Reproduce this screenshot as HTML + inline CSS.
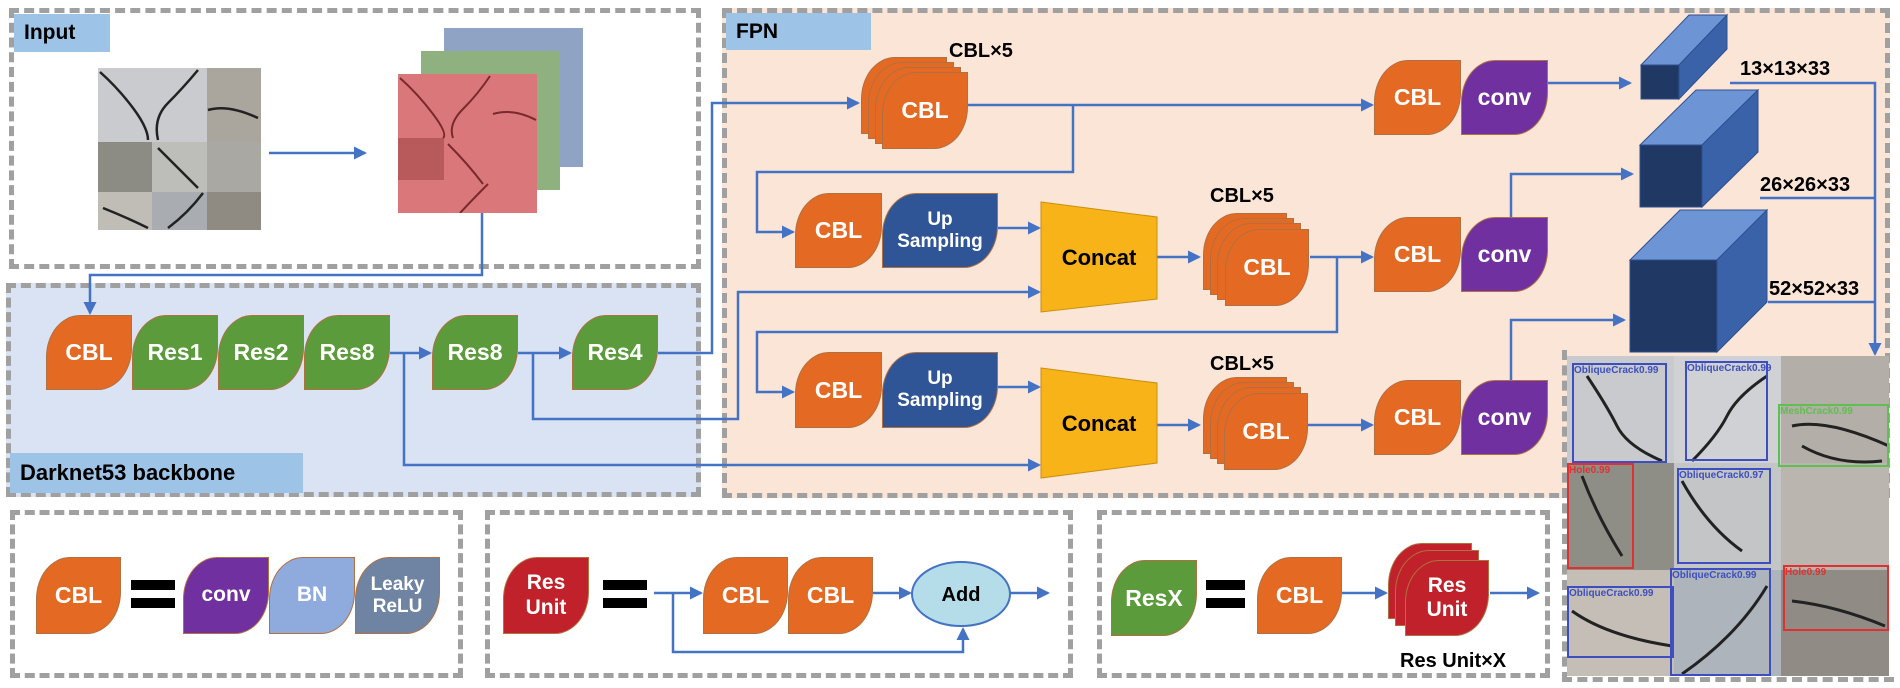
<!DOCTYPE html>
<html><head><meta charset="utf-8"><style>
*{margin:0;padding:0;box-sizing:border-box}
body{width:1900px;height:688px;position:relative;background:#fff;overflow:hidden;font-family:"Liberation Sans",Arial,sans-serif}
.box{position:absolute;border:5px dashed #a0a0a0}
.lab{position:absolute;background:#9dc3e6;font-weight:bold;font-size:21px;color:#000;padding-left:10px;display:flex;align-items:center}
.b{position:absolute;display:flex;align-items:center;justify-content:center;text-align:center;color:#fff;font-weight:bold;font-size:23px;line-height:1.15;border-radius:34px 0 34px 0/42px 0 42px 0;border:1px solid #b07040}
.o{background:#e46a24}.g{background:#5b9b3c}.u{background:#2f5597;font-size:19px}.p{background:#7030a0}.r{background:#c0212a}
.t{position:absolute;font-weight:bold;font-size:20px;color:#000;white-space:nowrap}
.tile{position:absolute}
.det{position:absolute;border:2px solid;font-size:10px;font-weight:bold}
</style></head><body>
<!-- boxes -->
<div class="box" style="left:9px;top:8px;width:692px;height:261px"></div>
<div class="box" style="left:6px;top:283px;width:695px;height:214px;background:#dae3f3"></div>
<div class="box" style="left:722px;top:8px;width:1168px;height:490px;background:#fbe5d6"></div>
<div class="box" style="left:10px;top:510px;width:453px;height:168px"></div>
<div class="box" style="left:485px;top:510px;width:588px;height:168px"></div>
<div class="box" style="left:1097px;top:510px;width:453px;height:168px"></div>
<div class="box" style="left:1562px;top:350px;width:332px;height:332px;border-right:none;border-top:none"></div>
<div class="lab" style="left:14px;top:14px;width:96px;height:38px">Input</div>
<div class="lab" style="left:10px;top:453px;width:293px;height:40px;font-size:22px">Darknet53 backbone</div>
<div class="lab" style="left:726px;top:13px;width:145px;height:37px">FPN</div>

<!-- input images -->
<svg width="1900" height="688" style="position:absolute;left:0;top:0">
<g>
<rect x="98" y="68" width="109" height="74" fill="#c9cbcf"/><rect x="207" y="68" width="54" height="74" fill="#aaa59d"/>
<rect x="98" y="142" width="54" height="76" fill="#8d8c84"/><rect x="152" y="142" width="55" height="76" fill="#bdbdb9"/><rect x="207" y="142" width="54" height="76" fill="#aaa8a2"/>
<rect x="98" y="218" width="54" height="12" fill="#c0bcb6"/>
<rect x="98" y="218" width="54" height="12" fill="#c0bcb6"/>
<rect x="98" y="218" width="54" height="12" fill="#c0bcb6"/>
</g>
<rect x="98" y="218" width="163" height="12" fill="none"/>
</svg>
<div style="position:absolute;left:98px;top:68px;width:163px;height:162px">
<svg width="163" height="162">
<rect width="109" height="74" fill="#c9cbcf"/><rect x="109" width="54" height="74" fill="#aaa59d"/>
<rect y="74" width="54" height="76" fill="#8d8c84"/><rect x="54" y="74" width="55" height="76" fill="#bdbdb9"/><rect x="109" y="74" width="54" height="76" fill="#aaa8a2"/>
<rect y="150" width="54" height="12" fill="#c0bcb6"/><rect x="54" y="150" width="55" height="12" fill="#a9adb2"/><rect x="109" y="150" width="54" height="12" fill="#8f8a82"/>
<rect y="124" width="54" height="38" fill="#c0bcb6"/><rect x="54" y="124" width="55" height="38" fill="#a9adb2"/><rect x="109" y="124" width="54" height="38" fill="#8f8a82"/>
<g stroke="#222" stroke-width="2.5" fill="none">
<path d="M2 4Q20 20 35 40T50 72"/><path d="M100 2Q85 20 70 35T60 72"/>
<path d="M110 42Q130 36 160 50"/><path d="M60 80Q80 100 100 120"/>
<path d="M5 140Q30 150 50 160"/><path d="M105 125Q90 145 70 160"/>
</g></svg></div>
<div style="position:absolute;left:444px;top:28px;width:139px;height:139px;background:#8fa3c4"></div>
<div style="position:absolute;left:421px;top:51px;width:139px;height:139px;background:#8fb07f"></div>
<div style="position:absolute;left:398px;top:74px;width:139px;height:139px;background:#d9777a">
<svg width="139" height="139"><rect x="0" y="64" width="46" height="42" fill="#b85a5c"/><g stroke="#7a2a2c" stroke-width="2" fill="none">
<path d="M2 4Q20 20 35 40T45 64"/><path d="M92 2Q80 20 65 35T55 64"/><path d="M95 40Q115 34 138 46"/><path d="M50 70Q70 90 85 110"/><path d="M90 110Q75 125 62 139"/></g></svg></div>

<svg width="1900" height="688" style="position:absolute;left:0;top:0">
<defs><marker id="a" markerWidth="13" markerHeight="13" refX="11" refY="6.5" orient="auto" markerUnits="userSpaceOnUse"><path d="M0,0L13,6.5L0,13z" fill="#4472c4"/></marker></defs>
<g stroke="#4472c4" stroke-width="2.5" fill="none">
<path d="M269 153H365" marker-end="url(#a)"/>
<path d="M482 213V275H90V313" marker-end="url(#a)"/>
<path d="M390 353H430" marker-end="url(#a)"/>
<path d="M518 353H570" marker-end="url(#a)"/>
<path d="M658 353H712V103H858" marker-end="url(#a)"/>
<path d="M404 353V465H1039" marker-end="url(#a)"/>
<path d="M533 353V419H738V292H1039" marker-end="url(#a)"/>
<path d="M968 105H1372" marker-end="url(#a)"/>
<path d="M1073 105V172H757V232H793" marker-end="url(#a)"/>
<path d="M998 228H1039" marker-end="url(#a)"/>
<path d="M1157 257H1199" marker-end="url(#a)"/>
<path d="M1310 257H1372" marker-end="url(#a)"/>
<path d="M1337 257V332H757V392H793" marker-end="url(#a)"/>
<path d="M998 387H1039" marker-end="url(#a)"/>
<path d="M1157 425H1199" marker-end="url(#a)"/>
<path d="M1307 425H1372" marker-end="url(#a)"/>
<path d="M1548 83H1630" marker-end="url(#a)"/>
<path d="M1511 217V174H1632" marker-end="url(#a)"/>
<path d="M1511 380V320H1624" marker-end="url(#a)"/>
<path d="M1730 83H1875V354" marker-end="url(#a)"/>
<path d="M1760 198H1875M1768 302H1875"/>
<path d="M654 593H701" marker-end="url(#a)"/>
<path d="M873 593H910" marker-end="url(#a)"/>
<path d="M1010 593H1048" marker-end="url(#a)"/>
<path d="M673 593V652H963V629" marker-end="url(#a)"/>
<path d="M1342 593H1386" marker-end="url(#a)"/>
<path d="M1490 593H1538" marker-end="url(#a)"/>
</g>
<!-- concat -->
<polygon points="1041,202 1157,217 1157,299 1041,312" fill="#f8b319" stroke="#c89010"/>
<polygon points="1041,368 1157,383 1157,463 1041,478" fill="#f8b319" stroke="#c89010"/>
<text x="1099" y="265" text-anchor="middle" font-family="Liberation Sans" font-weight="bold" font-size="22">Concat</text>
<text x="1099" y="431" text-anchor="middle" font-family="Liberation Sans" font-weight="bold" font-size="22">Concat</text>
<!-- cubes -->
<g stroke="#2f4f8f" stroke-width="1">
<polygon points="1641,65 1689,15 1727,15 1679,65" fill="#6d95d6"/>
<polygon points="1679,65 1727,15 1727,49 1679,99" fill="#3a62a8"/>
<rect x="1641" y="65" width="38" height="34" fill="#1f3864"/>
<polygon points="1640,145 1696,90 1758,90 1702,145" fill="#6d95d6"/>
<polygon points="1702,145 1758,90 1758,152 1702,207" fill="#3a62a8"/>
<rect x="1640" y="145" width="62" height="62" fill="#1f3864"/>
<polygon points="1630,260 1680,210 1767,210 1717,260" fill="#6d95d6"/>
<polygon points="1717,260 1767,210 1767,302 1717,352" fill="#3a62a8"/>
<rect x="1630" y="260" width="87" height="92" fill="#1f3864"/>
</g>
<ellipse cx="961" cy="594" rx="49" ry="32" fill="#b4dde9" stroke="#4472c4" stroke-width="2"/>
<text x="961" y="601" text-anchor="middle" font-family="Liberation Sans" font-weight="bold" font-size="20">Add</text>
<!-- equals -->
<g fill="#000"><rect x="131" y="580" width="44" height="10"/><rect x="131" y="598" width="44" height="10"/>
<rect x="603" y="580" width="44" height="10"/><rect x="603" y="598" width="44" height="10"/>
<rect x="1206" y="580" width="39" height="10"/><rect x="1206" y="598" width="39" height="10"/></g>
</svg>

<!-- backbone -->
<div class="b o" style="left:46px;top:315px;width:86px;height:75px">CBL</div>
<div class="b g" style="left:132px;top:315px;width:86px;height:75px">Res1</div>
<div class="b g" style="left:218px;top:315px;width:86px;height:75px">Res2</div>
<div class="b g" style="left:304px;top:315px;width:86px;height:75px">Res8</div>
<div class="b g" style="left:432px;top:315px;width:86px;height:75px">Res8</div>
<div class="b g" style="left:572px;top:315px;width:86px;height:75px">Res4</div>

<!-- stack 1 -->
<div class="b o" style="left:861px;top:57px;width:86px;height:77px"></div>
<div class="b o" style="left:868px;top:62px;width:86px;height:77px"></div>
<div class="b o" style="left:875px;top:67px;width:86px;height:77px"></div>
<div class="b o" style="left:882px;top:72px;width:86px;height:77px">CBL</div>
<div class="t" style="left:949px;top:40px">CBL×5</div>
<!-- stack 2 -->
<div class="b o" style="left:1203px;top:213px;width:84px;height:77px"></div>
<div class="b o" style="left:1210px;top:218px;width:84px;height:77px"></div>
<div class="b o" style="left:1217px;top:223px;width:84px;height:77px"></div>
<div class="b o" style="left:1225px;top:229px;width:84px;height:77px">CBL</div>
<div class="t" style="left:1210px;top:185px">CBL×5</div>
<!-- stack 3 -->
<div class="b o" style="left:1203px;top:377px;width:84px;height:77px"></div>
<div class="b o" style="left:1210px;top:382px;width:84px;height:77px"></div>
<div class="b o" style="left:1217px;top:387px;width:84px;height:77px"></div>
<div class="b o" style="left:1224px;top:393px;width:84px;height:77px">CBL</div>
<div class="t" style="left:1210px;top:353px">CBL×5</div>

<div class="b o" style="left:795px;top:193px;width:87px;height:75px">CBL</div>
<div class="b u" style="left:882px;top:193px;width:116px;height:75px">Up<br>Sampling</div>
<div class="b o" style="left:795px;top:352px;width:87px;height:76px">CBL</div>
<div class="b u" style="left:882px;top:352px;width:116px;height:76px">Up<br>Sampling</div>

<div class="b o" style="left:1374px;top:60px;width:87px;height:75px">CBL</div>
<div class="b p" style="left:1461px;top:60px;width:87px;height:75px">conv</div>
<div class="b o" style="left:1374px;top:217px;width:87px;height:75px">CBL</div>
<div class="b p" style="left:1461px;top:217px;width:87px;height:75px">conv</div>
<div class="b o" style="left:1374px;top:380px;width:87px;height:75px">CBL</div>
<div class="b p" style="left:1461px;top:380px;width:87px;height:75px">conv</div>

<div class="t" style="left:1740px;top:58px">13×13×33</div>
<div class="t" style="left:1760px;top:174px">26×26×33</div>
<div class="t" style="left:1769px;top:278px">52×52×33</div>

<!-- detection image -->
<div style="position:absolute;left:1567px;top:356px;width:322px;height:320px;background:#b9b7b2">
<div class="tile" style="left:0;top:0;width:107px;height:107px;background:#c8cacd"></div>
<div class="tile" style="left:107px;top:0;width:107px;height:107px;background:#cfd1d4"></div>
<div class="tile" style="left:214px;top:0;width:108px;height:107px;background:#b3aea7"></div>
<div class="tile" style="left:0;top:107px;width:107px;height:107px;background:#8e8e86"></div>
<div class="tile" style="left:107px;top:107px;width:107px;height:107px;background:#c4c5c6"></div>
<div class="tile" style="left:214px;top:107px;width:108px;height:107px;background:#bab5ae"></div>
<div class="tile" style="left:0;top:214px;width:107px;height:106px;background:#c4beb6"></div>
<div class="tile" style="left:107px;top:214px;width:107px;height:106px;background:#aeb4bc"></div>
<div class="tile" style="left:214px;top:214px;width:108px;height:106px;background:#908b84"></div>
<svg width="322" height="320" style="position:absolute;left:0;top:0"><g stroke="#222" stroke-width="3" fill="none">
<path d="M20 20Q40 50 50 70T95 105"/><path d="M200 20Q170 40 160 60T125 105"/>
<path d="M225 70Q260 62 322 90"/><path d="M235 90Q270 110 315 105"/>
<path d="M15 120Q30 160 55 200"/><path d="M115 125Q140 170 175 195"/>
<path d="M5 255Q40 280 105 290"/><path d="M200 230Q170 280 115 318"/>
<path d="M225 245Q270 250 318 270"/></g></svg>
<div class="det" style="left:5px;top:7px;width:95px;height:100px;border-color:#3d4fc0;color:#3d4fc0">ObliqueCrack0.99</div>
<div class="det" style="left:118px;top:5px;width:83px;height:100px;border-color:#3d4fc0;color:#3d4fc0">ObliqueCrack0.99</div>
<div class="det" style="left:211px;top:48px;width:111px;height:63px;border-color:#5fbf4f;color:#5fbf4f">MeshCrack0.99</div>
<div class="det" style="left:0;top:107px;width:67px;height:106px;border-color:#e03030;color:#e03030">Hole0.99</div>
<div class="det" style="left:110px;top:112px;width:94px;height:96px;border-color:#3d4fc0;color:#3d4fc0">ObliqueCrack0.97</div>
<div class="det" style="left:0;top:230px;width:107px;height:72px;border-color:#3d4fc0;color:#3d4fc0">ObliqueCrack0.99</div>
<div class="det" style="left:103px;top:212px;width:101px;height:108px;border-color:#3d4fc0;color:#3d4fc0">ObliqueCrack0.99</div>
<div class="det" style="left:216px;top:209px;width:106px;height:66px;border-color:#e03030;color:#e03030">Hole0.99</div>
</div>

<!-- legend -->
<div class="b o" style="left:36px;top:557px;width:85px;height:77px">CBL</div>
<div class="b p" style="left:183px;top:557px;width:86px;height:77px;font-size:21px">conv</div>
<div class="b" style="left:269px;top:557px;width:86px;height:77px;background:#8faadc;font-size:21px">BN</div>
<div class="b" style="left:355px;top:557px;width:85px;height:77px;background:#6f83a3;font-size:19px">Leaky<br>ReLU</div>

<div class="b r" style="left:503px;top:557px;width:86px;height:77px;font-size:21px">Res<br>Unit</div>
<div class="b o" style="left:703px;top:557px;width:85px;height:77px">CBL</div>
<div class="b o" style="left:788px;top:557px;width:85px;height:77px">CBL</div>

<div class="b g" style="left:1111px;top:560px;width:86px;height:76px">ResX</div>
<div class="b o" style="left:1257px;top:557px;width:85px;height:77px">CBL</div>
<div class="b r" style="left:1388px;top:543px;width:84px;height:76px"></div>
<div class="b r" style="left:1395px;top:550px;width:84px;height:76px"></div>
<div class="b r" style="left:1405px;top:560px;width:84px;height:76px;font-size:21px">Res<br>Unit</div>
<div class="t" style="left:1400px;top:650px">Res Unit×X</div>
</body></html>
